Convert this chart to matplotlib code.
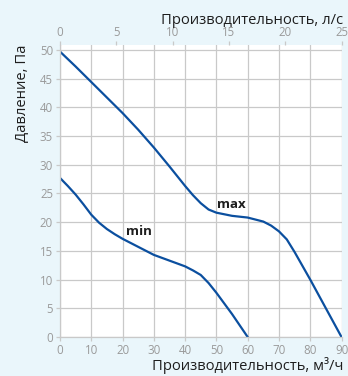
import matplotlib as mpl
mpl.use("Agg")
import matplotlib.pyplot as plt
import numpy as np

################################################################
# Data

# max curve: flow [m3/h], pressure [Pa]
q_max = [0, 5, 10, 15, 20, 25, 30, 35, 40, 42.5, 45, 47.5, 50, 55, 60, 65, 67.5,
         70, 72.5, 75, 77.5, 80, 85, 90]
p_max = [49.7, 47.1, 44.4, 41.7, 39.0, 36.1, 33.0, 29.7, 26.3, 24.7, 23.3, 22.2,
         21.65, 21.1, 20.8, 20.1, 19.4, 18.4, 17.0, 14.8, 12.4, 10.0, 5.0, 0.0]

# min curve
q_min = [0, 2.5, 5, 7.5, 10, 12.5, 15, 17.5, 20, 25, 30, 35, 40, 42.5, 45, 47.5,
         50, 55, 60]
p_min = [27.7, 26.3, 24.8, 23.1, 21.3, 19.9, 18.8, 17.9, 17.1, 15.7, 14.3, 13.3,
         12.3, 11.6, 10.8, 9.4, 7.7, 4.0, 0.0]

x_ticks = [0, 10, 20, 30, 40, 50, 60, 70, 80, 90]
y_ticks = [0, 5, 10, 15, 20, 25, 30, 35, 40, 45, 50]
top_ticks = [0, 5, 10, 15, 20, 25]  # l/s

lbl_max = ('max', 54.8, 23.1)
lbl_min = ('min', 25.3, 18.3)

################################################################
# Style

BG = '#eaf6fb'
GRID = '#c9c9c9'
TICK = '#9a9a9a'
LINE = '#0b4f9f'
TXT = '#1e1e1e'
mpl.rcParams['font.family'] = ['Open Sans', 'DejaVu Sans']

fig = plt.figure(figsize=(3.48, 3.76), dpi=100, facecolor=BG)
ax = fig.add_axes([60 / 348, 1 - 337 / 376, 281.5 / 348, 292 / 376])
ax.set_facecolor('white')

ax.plot(q_max, p_max, color=LINE, lw=1.6, solid_joinstyle='round')
ax.plot(q_min, p_min, color=LINE, lw=1.6, solid_joinstyle='round')

for s, xx, yy in (lbl_max, lbl_min):
    ax.text(xx, yy, s, ha='center', va='center', fontsize=9.5,
            fontweight='bold', color=TXT)

ax.set_xlim(0, 90)
ax.set_ylim(0, 50.85)
ax.set_xticks(x_ticks)
ax.set_yticks(y_ticks)
ax.grid(True, color=GRID, lw=0.9)
ax.set_axisbelow(True)
for sp in ['top', 'right']:
    ax.spines[sp].set_visible(False)
for sp in ['left', 'bottom']:
    ax.spines[sp].set_color(GRID)
    ax.spines[sp].set_linewidth(0.9)
ax.tick_params(colors=GRID, labelcolor=TICK, labelsize=8.3, length=3, width=0.9, pad=2)

# top axis in l/s (90 m3/h = 25 l/s)
sec = ax.secondary_xaxis('top', functions=(lambda q: q / 3.6, lambda l: l * 3.6))
sec.set_xticks(top_ticks)
sec.spines['top'].set_visible(False)
sec.tick_params(colors=GRID, labelcolor=TICK, labelsize=8.3, length=3, width=0.9, pad=1)

fig.text(343 / 348, 1 - 20 / 376, 'Производительность, л/с', ha='right', va='center',
         fontsize=10.6, color=TXT)
fig.text(343 / 348, 1 - 365 / 376, 'Производительность, м³/ч', ha='right', va='center',
         fontsize=10.6, color=TXT)
fig.text(22.5 / 348, 1 - 45 / 376, 'Давление, Па', ha='center', va='top',
         rotation=90, fontsize=10.6, color=TXT)

fig.savefig('out.png', dpi=100, facecolor=BG)
